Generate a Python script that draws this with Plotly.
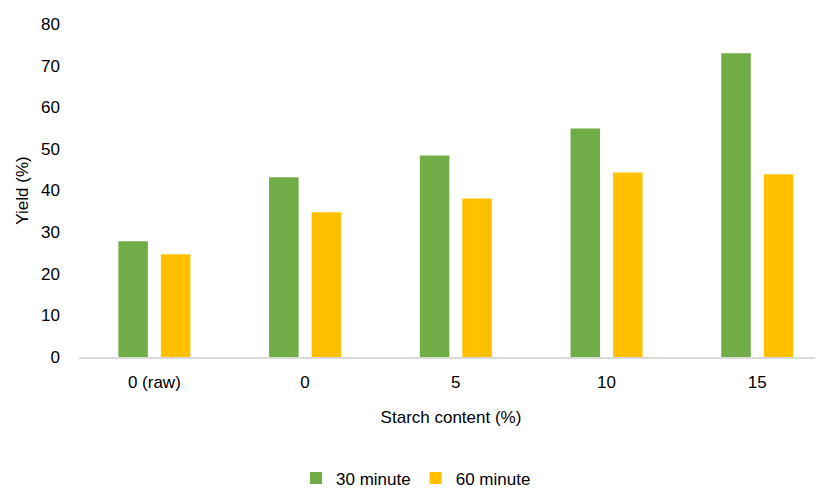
import plotly.graph_objects as go

categories = ["0 (raw)", "0", "5", "10", "15"]
yield_30 = [27.8, 43.2, 48.4, 54.9, 73.0]
yield_60 = [24.7, 34.8, 38.1, 44.3, 43.9]
y_ticks = [0, 10, 20, 30, 40, 50, 60, 70, 80]

FONT = "Arial, Liberation Sans, sans-serif"

fig = go.Figure()
fig.add_trace(go.Bar(x=categories, y=yield_30, name="30 minute",
                     marker=dict(color="#70AD47", line=dict(width=0))))
fig.add_trace(go.Bar(x=categories, y=yield_60, name="60 minute",
                     marker=dict(color="#FFC000", line=dict(width=0))))

fig.update_layout(
    width=815, height=480,
    margin=dict(l=71, r=0, t=16, b=131, autoexpand=False),
    paper_bgcolor="white", plot_bgcolor="white",
    font=dict(family=FONT, size=17, color="#000000"),
    barmode="group", bargap=0.436, bargroupgap=0.306,
    showlegend=True,
    legend=dict(orientation="h", x=0.453, xanchor="center", y=-0.365, yanchor="middle",
                font=dict(size=17), itemwidth=30, traceorder="normal"),
)
fig.update_xaxes(type="category", range=[-0.5, 4.436], automargin=False,
                 showline=True, linecolor="#D9D9D9", linewidth=2,
                 ticks="", showgrid=False, zeroline=False, ticklabelstandoff=9,
                 title=dict(text="Starch content (%)", font=dict(size=17), standoff=20),
                 tickfont=dict(size=17))
fig.update_yaxes(range=[0, 80], tickvals=y_ticks, showgrid=False, zeroline=False,
                 automargin=False,
                 showline=False, ticks="", ticklabelstandoff=18,
                 title=dict(text="Yield (%)", font=dict(size=17), standoff=8),
                 tickfont=dict(size=17))

fig.write_html("out.html")
